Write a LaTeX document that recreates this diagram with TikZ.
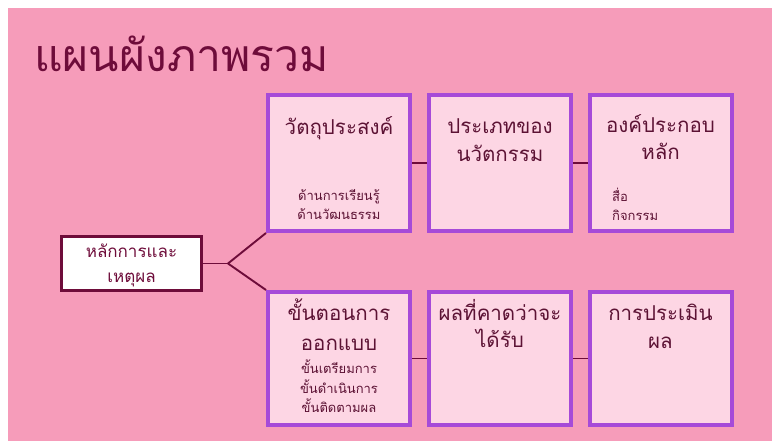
\documentclass[tikz,border=0pt]{standalone}
\usepackage{fontspec}
\setmainfont[Script=Thai]{Loma}
\newfontfamily\thaifont[Script=Thai]{Loma}
\definecolor{bgpink}{RGB}{246,156,186}
\definecolor{boxfill}{RGB}{253,214,228}
\definecolor{boxline}{RGB}{166,74,216}
\definecolor{maroon}{RGB}{110,12,58}
\definecolor{txt}{RGB}{92,18,52}
\tikzset{
  card/.style={draw=boxline, line width=4pt, fill=boxfill, minimum width=142pt, minimum height=136pt, inner sep=0pt},
  lowcard/.style={card, minimum height=133pt},
  rootbox/.style={draw=maroon, line width=3pt, fill=white, minimum width=140pt, minimum height=54pt, inner sep=0pt},
  link/.style={draw=maroon, line width=1.9pt},
  head/.style={font=\thaifont\fontsize{20.5}{24}\selectfont, text=txt, anchor=base, inner sep=0pt},
  sub/.style={font=\thaifont\fontsize{13}{15}\selectfont, text=txt, anchor=base, inner sep=0pt},
  subl/.style={sub, anchor=base west},
  roottxt/.style={font=\thaifont\fontsize{17}{20}\selectfont, text=maroon, anchor=base, inner sep=0pt},
  titletxt/.style={font=\thaifont\fontsize{44.5}{48}\selectfont, text=maroon, anchor=base west, inner sep=0pt}
}
\begin{document}
\begin{tikzpicture}[x=1pt,y=-1pt]
\useasboundingbox (0,0) rectangle (772,441);
\fill[white] (0,0) rectangle (772,441);
\fill[bgpink] (8,8) rectangle (772,441);
\node[titletxt] (title) at (34,72) {แผนผังภาพรวม};
% boxes
\node[card] (b1) at (339,163) {};
\node[card] (b2) at (500,163) {};
\node[card] (b3) at (660.5,163) {};
\node[lowcard] (b4) at (339,358.5) {};
\node[lowcard] (b5) at (500,358.5) {};
\node[lowcard] (b6) at (660.5,358.5) {};
\node[rootbox] (root) at (131.5,263.5) {};
\coordinate (j) at (228,263.5);
% connectors
\draw[link] (root.east) -- (j);
\draw[link] (j) -- (b1.south west);
\draw[link] (j) -- (b4.north west);
\draw[link] (b1.east) -- (b2.west);
\draw[link] (b2.east) -- (b3.west);
\draw[link] (b4.east) -- (b5.west);
\draw[link] (b5.east) -- (b6.west);
% texts
\node[roottxt] (r1) at (131.5,258) {หลักการและ};
\node[roottxt] (r2) at (131.5,283) {เหตุผล};
\node[head] (t1) at (339,135) {วัตถุประสงค์};
\node[sub] (s11) at (339,201) {ด้านการเรียนรู้};
\node[sub] (s12) at (339,220) {ด้านวัฒนธรรม};
\node[head] (t2a) at (500,134) {ประเภทของ};
\node[head] (t2b) at (500,162) {นวัตกรรม};
\node[head] (t3a) at (660.5,133) {องค์ประกอบ};
\node[head] (t3b) at (660.5,160) {หลัก};
\node[subl] (s31) at (612,202) {สื่อ};
\node[subl] (s32) at (612,221) {กิจกรรม};
\node[head] (t4a) at (339,320) {ขั้นตอนการ};
\node[head] (t4b) at (339,350) {ออกแบบ};
\node[sub] (s41) at (339,373) {ขั้นเตรียมการ};
\node[sub] (s42) at (339,393) {ขั้นดำเนินการ};
\node[sub] (s43) at (339,412) {ขั้นติดตามผล};
\node[head] (t5a) at (500,320) {ผลที่คาดว่าจะ};
\node[head] (t5b) at (500,347) {ได้รับ};
\node[head] (t6a) at (660.5,320) {การประเมิน};
\node[head] (t6b) at (660.5,348) {ผล};
\end{tikzpicture}
\end{document}
